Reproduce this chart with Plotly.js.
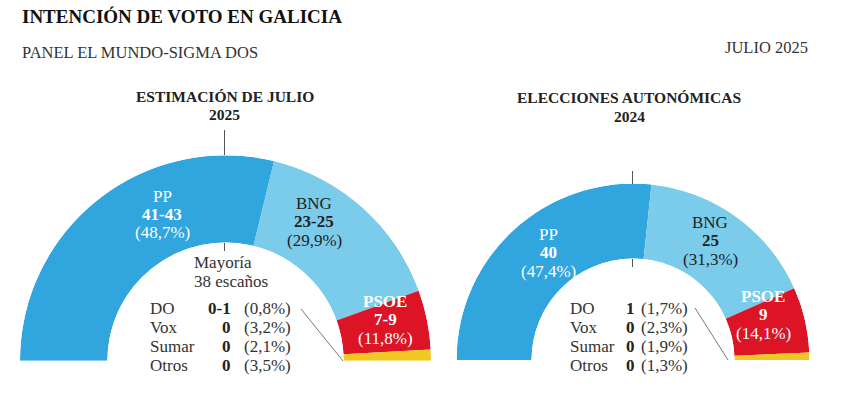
<!DOCTYPE html>
<html>
<head>
<meta charset="utf-8">
<script src="https://cdn.plot.ly/plotly-3.0.1.min.js"></script>
<style>
html,body{margin:0;padding:0;background:#fff;overflow:hidden;}
#chart{width:843px;height:397px;}
</style>
</head>
<body>
<div id="chart"></div>
<script>
// ---- data ----
const parties = ["PP", "BNG", "PSOE", "DO"];
const partyColors = ["#30a5de", "#7bcbeb", "#dd1326", "#f0c824"];
const totalSeats = 75;
const majoritySeats = 38;

// Estimación julio 2025 (arc sizes as drawn in the picture)
const est2025ArcSeats = [43.2, 23.5, 7.0, 1.3];
const est2025SeatLabels = ["41-43", "23-25", "7-9", "0-1"];
const est2025Pct = [48.7, 29.9, 11.8, 0.8];

// Elecciones autonómicas 2024
const elec2024Seats = [40, 25, 9, 1];
const elec2024SeatLabels = ["40", "25", "9", "1"];
const elec2024Pct = [47.4, 31.3, 14.1, 1.7];

// Minor parties table
const minorParties = ["DO", "Vox", "Sumar", "Otros"];
const est2025MinorSeats = ["0-1", "0", "0", "0"];
const est2025MinorPct = [0.8, 3.2, 2.1, 3.5];
const elec2024MinorSeats = ["1", "0", "0", "0"];
const elec2024MinorPct = [1.7, 2.3, 1.9, 1.3];

// ---- helpers ----
const W = 843, H = 397;
const px = x => x / W;
const py = y => 1 - y / H;
const fmt = v => "(" + v.toFixed(1).replace(".", ",") + "%)";
const FONT = "Liberation Serif";
const DARK = "#222";
const FS = 17;

function arcTrace(seats, polarId) {
  const k = 180 / totalSeats;
  let cum = 0;
  const theta = [], width = [];
  seats.forEach(s => { theta.push((cum + s / 2) * k); width.push(s * k); cum += s; });
  return {
    type: "barpolar", subplot: polarId,
    r: seats.map(() => 1), theta: theta, width: width,
    marker: { color: partyColors, line: { width: 0 } },
    hoverinfo: "skip", showlegend: false
  };
}

function polarLayout(dx, dy) {
  return {
    domain: { x: dx, y: dy },
    sector: [0, 180], hole: 0.575, bargap: 0,
    bgcolor: "rgba(0,0,0,0)",
    angularaxis: { visible: false, rotation: 180, direction: "clockwise", showgrid: false },
    radialaxis: { visible: false, range: [0, 1], showgrid: false }
  };
}

const ann = [];
function T(text, x, y, opts) {
  ann.push(Object.assign({
    text: text, x: px(x), y: py(y), xref: "paper", yref: "paper",
    xanchor: "center", yanchor: "middle", showarrow: false,
    font: { family: FONT, size: FS, color: DARK }
  }, opts || {}));
}

// Header
T("<b>INTENCIÓN DE VOTO EN GALICIA</b>", 20, 16, { xanchor: "left", font: { family: FONT, size: 19, color: "#111" } });
T("PANEL EL MUNDO-SIGMA DOS", 20, 52, { xanchor: "left", font: { family: FONT, size: 16.5, color: "#333" } });
T("JULIO 2025", 810, 47, { xanchor: "right", font: { family: FONT, size: 16.5, color: "#333" } });

// Chart titles
T("<b>ESTIMACIÓN DE JULIO</b>", 225, 96, { font: { family: FONT, size: 15.5, color: DARK } });
T("<b>2025</b>", 225, 115, { font: { family: FONT, size: 15.5, color: DARK } });
T("<b>ELECCIONES AUTONÓMICAS</b>", 629, 97, { font: { family: FONT, size: 15.5, color: DARK } });
T("<b>2024</b>", 629, 116, { font: { family: FONT, size: 15.5, color: DARK } });

// Slice labels
function sliceLabel(name, seats, pct, x, y0, color, boldName) {
  const f = { family: FONT, size: FS, color: color };
  T(boldName ? "<b>" + name + "</b>" : name, x, y0, { font: f });
  T("<b>" + seats + "</b>", x, y0 + 18.5, { font: f });
  T(fmt(pct), x, y0 + 37, { font: f });
}
sliceLabel(parties[0], est2025SeatLabels[0], est2025Pct[0], 162, 196, "#fff", false);
sliceLabel(parties[1], est2025SeatLabels[1], est2025Pct[1], 314, 203, DARK, false);
sliceLabel(parties[2], est2025SeatLabels[2], est2025Pct[2], 385, 301, "#fff", true);

sliceLabel(parties[0], elec2024SeatLabels[0], elec2024Pct[0], 548, 234, "#fff", false);
sliceLabel(parties[1], elec2024SeatLabels[1], elec2024Pct[1], 710, 222, DARK, false);
sliceLabel(parties[2], elec2024SeatLabels[2], elec2024Pct[2], 763, 296, "#fff", true);

// Majority
T("Mayoría", 192, 262, { xanchor: "left", font: { family: FONT, size: FS, color: "#333" } });
T(majoritySeats + " escaños", 192, 281, { xanchor: "left", font: { family: FONT, size: FS, color: "#333" } });

// Minor party tables
function table(xName, xSeat, xPct, seats, pcts) {
  const rowsY = [308, 327, 346, 365];
  minorParties.forEach((p, i) => {
    const f = { family: FONT, size: FS, color: "#333" };
    T(p, xName, rowsY[i], { xanchor: "left", font: f });
    T("<b>" + seats[i] + "</b>", xSeat, rowsY[i], { xanchor: "right", font: { family: FONT, size: FS, color: DARK } });
    T(fmt(pcts[i]), xPct, rowsY[i], { xanchor: "right", font: f });
  });
}
table(148, 233, 293, est2025MinorSeats, est2025MinorPct);
table(568, 637, 690, elec2024MinorSeats, elec2024MinorPct);

const lineStyle = { color: "#555", width: 1 };
const shapes = [
  { type: "line", xref: "paper", yref: "paper", x0: px(224.5), x1: px(224.5), y0: py(130), y1: py(155), line: lineStyle },
  { type: "line", xref: "paper", yref: "paper", x0: px(224.5), x1: px(224.5), y0: py(243), y1: py(251), line: lineStyle },
  { type: "line", xref: "paper", yref: "paper", x0: px(632.5), x1: px(632.5), y0: py(171), y1: py(184), line: lineStyle },
  { type: "line", xref: "paper", yref: "paper", x0: px(632.5), x1: px(632.5), y0: py(259), y1: py(267), line: lineStyle },
  { type: "line", xref: "paper", yref: "paper", x0: px(301), x1: px(343), y0: py(309), y1: py(361), line: { color: "#555", width: 0.8 } },
  { type: "line", xref: "paper", yref: "paper", x0: px(695), x1: px(728), y0: py(308), y1: py(360), line: { color: "#555", width: 0.8 } }
];

const data = [arcTrace(est2025ArcSeats, "polar"), arcTrace(elec2024Seats, "polar2")];

const layout = {
  width: W, height: H,
  margin: { l: 0, r: 0, t: 0, b: 0 },
  paper_bgcolor: "#fff",
  showlegend: false,
  polar: polarLayout([px(20), px(431)], [36 / H, 242 / H]),
  polar2: polarLayout([px(456.5), px(809.5)], [37 / H, 213.5 / H]),
  annotations: ann,
  shapes: shapes
};

Plotly.newPlot("chart", data, layout, { displayModeBar: false, staticPlot: true });
</script>
</body>
</html>
